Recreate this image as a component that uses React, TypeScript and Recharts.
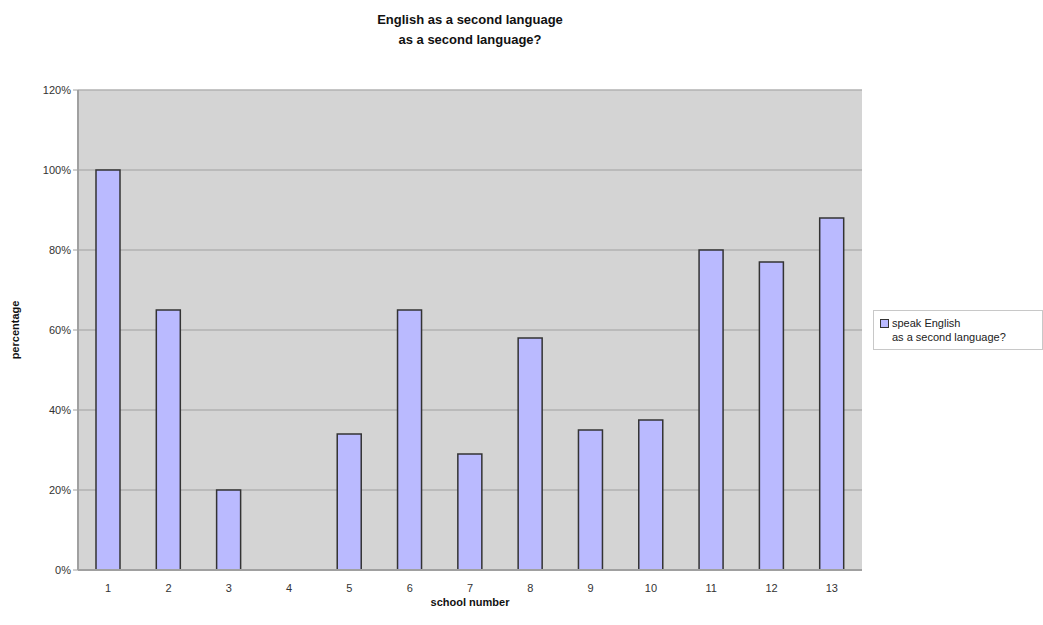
import { BarChart, Bar, XAxis, YAxis, CartesianGrid } from "recharts";

const schools = ["1", "2", "3", "4", "5", "6", "7", "8", "9", "10", "11", "12", "13"];
const secondLanguage = [1.0, 0.65, 0.2, 0, 0.34, 0.65, 0.29, 0.58, 0.35, 0.375, 0.8, 0.77, 0.88];
const yTicks = [0, 0.2, 0.4, 0.6, 0.8, 1.0, 1.2];

const data = schools.map((s, i) => ({ school: s, value: secondLanguage[i] }));

const FONT = "'Liberation Sans', Arial, sans-serif";

function LegendBox() {
  return (
    <div
      style={{
        position: "absolute",
        left: 873,
        top: 310,
        border: "1px solid #c8c8c8",
        background: "#fff",
        padding: "5px 6px",
        fontFamily: FONT,
        fontSize: 11,
        color: "#222",
        lineHeight: "14px",
        width: 156,
      }}
    >
      <div style={{ display: "flex", alignItems: "center" }}>
        <span
          style={{
            display: "inline-block",
            width: 7,
            height: 7,
            background: "#babaff",
            border: "1px solid #333",
            marginRight: 3,
          }}
        />
        speak English
      </div>
      <div style={{ paddingLeft: 12 }}>as a second language?</div>
    </div>
  );
}

export default function App() {
  return (
    <div style={{ position: "absolute", left: 0, top: 0, width: 1043, height: 625, background: "#fff", fontFamily: FONT }}>
      <div style={{ position: "absolute", left: 0, width: 940, top: 10, textAlign: "center", fontWeight: "bold", fontSize: 13, lineHeight: "20px", color: "#111" }}>
        English as a second language
        <br />
        as a second language?
      </div>
      <div
        style={{
          position: "absolute",
          left: 15,
          top: 330,
          transform: "translate(-50%, -50%) rotate(-90deg)",
          fontWeight: "bold",
          fontSize: 11,
          color: "#111",
          whiteSpace: "nowrap",
        }}
      >
        percentage
      </div>
      <div style={{ position: "absolute", left: 78, width: 784, top: 596, textAlign: "center", fontWeight: "bold", fontSize: 11, color: "#111" }}>
        school number
      </div>
      <BarChart
        width={1043}
        height={625}
        data={data}
        margin={{ top: 90, right: 181, bottom: 25, left: 0 }}
        barSize={24}
      >
        <CartesianGrid
          vertical={false}
          fill="#d4d4d4"
          stroke="#b2b2b2"
          strokeWidth={1.5}
        />
        <XAxis
          dataKey="school"
          height={30}
          tick={{ fontSize: 11, fill: "#333", fontFamily: FONT }}
          tickLine={false}
          axisLine={{ stroke: "#a0a0a0", strokeWidth: 2 }}
          tickMargin={8}
        />
        <YAxis
          width={78}
          domain={[0, 1.2]}
          ticks={yTicks}
          tickFormatter={(v: number) => `${Math.round(v * 100)}%`}
          tick={{ fontSize: 11, fill: "#333", fontFamily: FONT }}
          tickLine={{ stroke: "#a0a0a0" }}
          tickSize={5}
          axisLine={{ stroke: "#a0a0a0", strokeWidth: 2 }}
          interval={0}
        />
        <YAxis
          yAxisId="right"
          orientation="right"
          width={0}
          domain={[0, 1.2]}
          tick={false}
          tickLine={false}
          axisLine={{ stroke: "#c0c0c0", strokeWidth: 1 }}
        />
        <Bar
          dataKey="value"
          name="speak English as a second language?"
          fill="#babaff"
          stroke="#333"
          strokeWidth={1.5}
          isAnimationActive={false}
        />
      </BarChart>
      <LegendBox />
    </div>
  );
}
